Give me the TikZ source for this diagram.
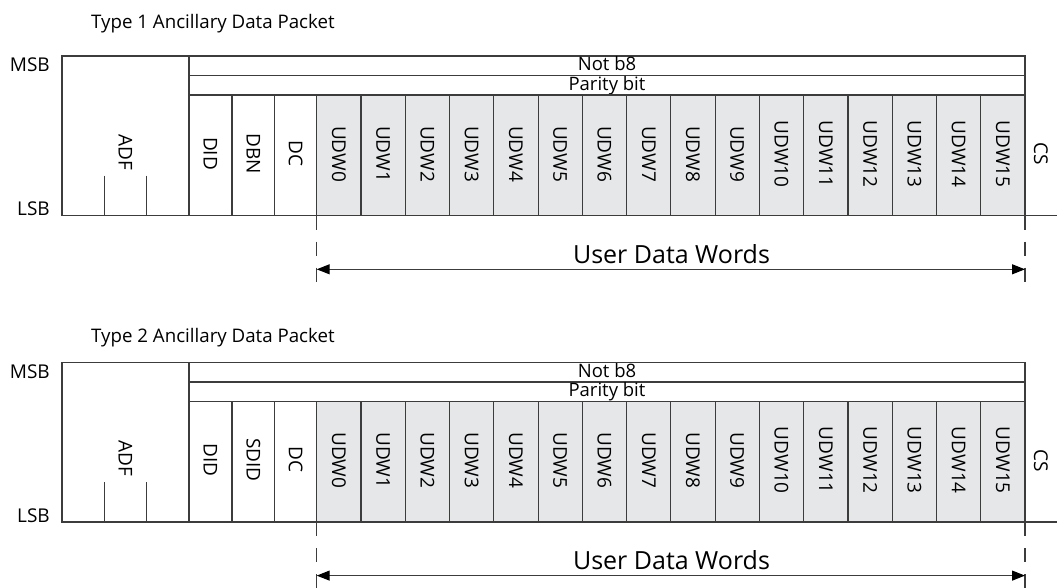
\documentclass[tikz,border=0pt]{standalone}
\usepackage{fontspec}
\setmainfont{Open Sans}
\usetikzlibrary{arrows.meta}
\definecolor{ln}{HTML}{3C3C3C}
\definecolor{udwfill}{HTML}{E6E7E8}
\tikzset{
  cellbox/.style={draw=ln, line width=1.1pt, inner sep=0pt, outer sep=0pt, anchor=north west},
  udwbox/.style={cellbox, fill=udwfill},
  vlabel/.style={rotate=-90, font=\fontsize{19}{19}\selectfont, inner sep=0pt},
  rowlabel/.style={font=\fontsize{18.5}{18.5}\selectfont, inner sep=0pt, anchor=base},
  sidelabel/.style={font=\fontsize{19}{19}\selectfont, inner sep=0pt, anchor=base east},
  titlelabel/.style={font=\fontsize{18.7}{18.7}\selectfont, inner sep=0pt, anchor=base west},
  biglabel/.style={font=\fontsize{25}{25}\selectfont, inner sep=0pt, anchor=base},
  frame/.style={draw=ln, line width=1.1pt},
  dashline/.style={draw=ln, line width=1.1pt, dash pattern=on 14pt off 12pt},
  span/.style={draw=ln, line width=1.1pt, {Triangle[length=13pt,width=10pt,fill=black,color=black]}-{Triangle[length=13pt,width=10pt,fill=black,color=black]}},
}
\newcommand\mypacket[5]{%
  \begin{scope}[shift={(0,#2)}]
    \node[titlelabel] (#1title) at (91,#5) {#4};
    \node[sidelabel] (#1msb) at (50,15.7) {MSB};
    \node[sidelabel] (#1lsb) at (50,159.7) {LSB};
    % ADF block
    \node[cellbox, minimum width=127pt, minimum height=159.7pt] (#1adf) at (62,0) {};
    \node[vlabel] (#1adft) at (125.5,96) {ADF};
    \coordinate (#1t1a) at (104.3,119.7); \coordinate (#1t1b) at (104.3,159.7);
    \coordinate (#1t2a) at (146.7,119.7); \coordinate (#1t2b) at (146.7,159.7);
    \draw[frame] (#1t1a) -- (#1t1b);
    \draw[frame] (#1t2a) -- (#1t2b);
    % rows
    \node[cellbox, minimum width=836pt, minimum height=19.7pt] (#1notb) at (189,0) {};
    \node[rowlabel] (#1notbt) at (607,14.7) {Not b8};
    \node[cellbox, minimum width=836pt, minimum height=19.3pt] (#1par) at (189,19.7) {};
    \node[rowlabel] (#1part) at (607,34) {Parity bit};
    % header cells
    \node[cellbox, minimum width=43pt, minimum height=120.7pt] (#1did) at (189,39) {};
    \node[vlabel] (#1didt) at (210.5,97.5) {DID};
    \node[cellbox, minimum width=42.7pt, minimum height=120.7pt] (#1sec) at (232,39) {};
    \node[vlabel] (#1sect) at (253.4,97.5) {#3};
    \node[cellbox, minimum width=42pt, minimum height=120.7pt] (#1dc) at (274.7,39) {};
    \node[vlabel] (#1dct) at (295.7,97.5) {DC};
    % user data words
    \foreach \i in {0,...,15}{
      \node[udwbox, minimum width=44.27pt, minimum height=120.7pt] (#1udw\i) at ({316.7+\i*44.27},39) {};
      \node[vlabel] (#1udwt\i) at ({316.7+\i*44.27+22.1},98) {UDW\i};
    }
    % CS
    \node[vlabel] (#1cs) at (1041,98) {CS};
    \coordinate (#1cstop) at (1025,0);
    \coordinate (#1csbot) at (1025,159.7);
    \coordinate (#1bend) at (1057,159.7);
    \draw[frame] (#1cstop) -- (#1csbot) -- (#1bend);
    % span
    \coordinate (#1da) at (316.7,159.7); \coordinate (#1db) at (316.7,228);
    \coordinate (#1dc2) at (1025,159.7); \coordinate (#1dd) at (1025,228);
    \draw[dashline] (#1da) -- (#1db);
    \draw[dashline] (#1dc2) -- (#1dd);
    \coordinate (#1aa) at (316.7,213.3); \coordinate (#1ab) at (1025,213.3);
    \draw[span] (#1aa) -- (#1ab);
    \node[biglabel] (#1udwlabel) at (671.5,207) {User Data Words};
  \end{scope}%
}
\begin{document}
\begin{tikzpicture}[x=1pt,y=-1pt]
  \useasboundingbox (0,0) rectangle (1057,587);
  \mypacket{a}{56}{DBN}{Type 1 Ancillary Data Packet}{-28}
  \mypacket{b}{362.3}{SDID}{Type 2 Ancillary Data Packet}{-19.6}
\end{tikzpicture}
\end{document}
